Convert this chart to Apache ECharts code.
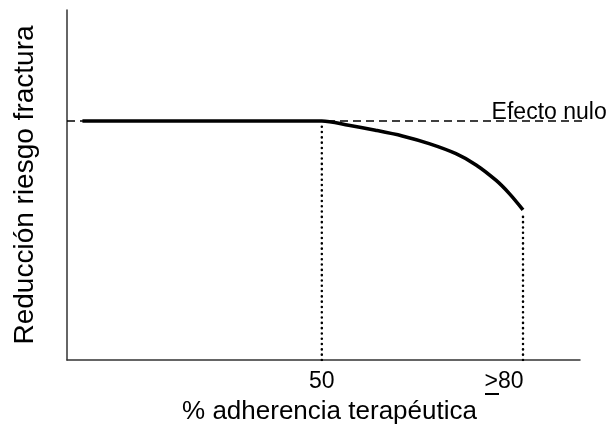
<!DOCTYPE html>
<html>
<head>
<meta charset="utf-8">
<script src="https://cdn.jsdelivr.net/npm/echarts@6/dist/echarts.min.js"></script>
<style>
html,body{margin:0;padding:0;background:#fff;}
#c{width:614px;height:431px;}
</style>
</head>
<body>
<div id="c"></div>
<script>
// Data
const adherence = [14.3, 45, 50, 54, 58, 62, 66, 70, 73, 76, 78, 80];
const reduction = [1, 1, 1, 0.982, 0.961, 0.937, 0.905, 0.863, 0.816, 0.751, 0.695, 0.628];
const nullEffect = 1;
const nullEffectLabel = 'Efecto nulo';
const nullLineX = [12, 89.6];
const labelAnchorX = 83.9;
const xTickValues = [50, 80];
const xTickLabels = ['50', '>80'];
const xAxisName = '% adherencia terapéutica';
const yAxisName = 'Reducción riesgo fractura';

const FONT = '"Liberation Sans", Arial, sans-serif';

const curve = adherence.map((x, i) => [x, reduction[i]]);
const dropLines = xTickValues.map(x => {
  const i = adherence.indexOf(x);
  return [[x, 0], [x, reduction[i] - 0.012]];
});

const chart = echarts.init(document.getElementById('c'));
chart.setOption({
  animation: false,
  backgroundColor: '#fff',
  grid: { left: 67, right: 34, top: 10, bottom: 71 },
  xAxis: {
    type: 'value', min: 12, max: 88.5,
    splitLine: { show: false },
    axisLine: { show: true, onZero: false, lineStyle: { color: '#333', width: 1.5 } },
    axisTick: { show: false },
    axisLabel: {
      customValues: xTickValues,
      formatter: v => v === 80 ? '{s|' + xTickLabels[1] + '}' : xTickLabels[xTickValues.indexOf(v)],
      rich: { s: { color: '#000', fontSize: 23, fontFamily: FONT, padding: [0, 38, 0, 0] } },
      color: '#000', fontSize: 23, fontFamily: FONT, margin: 10
    },
    name: xAxisName, nameLocation: 'middle', nameGap: 39,
    nameTextStyle: { color: '#000', fontSize: 26, fontFamily: FONT, padding: [0, 0, 0, 12] }
  },
  yAxis: {
    type: 'value', min: 0, max: 1.464,
    splitLine: { show: false },
    axisLine: { show: true, onZero: false, lineStyle: { color: '#333', width: 1.5 } },
    axisTick: { show: false },
    axisLabel: { show: false },
    name: yAxisName, nameLocation: 'middle', nameGap: 28,
    nameTextStyle: { color: '#000', fontSize: 28, fontFamily: FONT }
  },
  series: [
    {
      type: 'line', data: nullLineX.map(x => [x, nullEffect]),
      symbol: 'none', clip: false, silent: true,
      lineStyle: { color: '#000', width: 1.6, type: [8, 5] }, z: 1,
      markPoint: {
        silent: true, symbol: 'rect', symbolSize: 1,
        itemStyle: { color: 'rgba(0,0,0,0)' },
        data: [{ coord: [labelAnchorX, nullEffect] }],
        label: { show: true, formatter: nullEffectLabel, position: 'top', distance: 0, offset: [0, 4],
                 color: '#000', fontSize: 23, fontFamily: FONT }
      }
    },
    ...dropLines.map(d => ({
      type: 'line', data: d, symbol: 'none', silent: true,
      lineStyle: { color: '#000', width: 2.5, type: [0.1, 5.2], cap: 'round' }, z: 1
    })),
    {
      type: 'line', data: curve, symbol: 'none', smooth: 0.3, silent: true,
      lineStyle: { color: '#000', width: 3.6 }, z: 3
    }
  ]
});

// underline under ">" of the ">80" label (≥ sign), placed from the axis scale
const p80 = chart.convertToPixel({ gridIndex: 0 }, [80, 0]);
chart.setOption({
  graphic: [{
    type: 'line', silent: true,
    shape: { x1: p80[0] - 38, y1: p80[1] + 34, x2: p80[0] - 24, y2: p80[1] + 34 },
    style: { stroke: '#000', lineWidth: 2 }
  }]
});
</script>
</body>
</html>
